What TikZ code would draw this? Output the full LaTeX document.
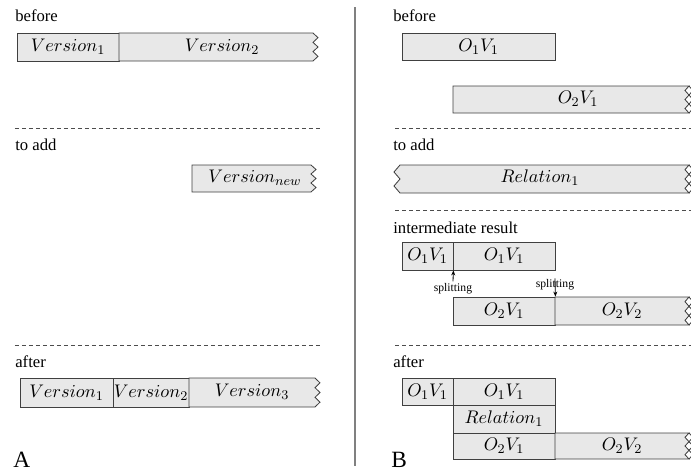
\documentclass[tikz,border=0pt]{standalone}
\usepackage{fontspec}
\setmainfont{Liberation Serif}
\usetikzlibrary{arrows.meta,calc}
% zigzag edge: x of edge, y1, y2, amplitude (3 teeth)
\newcommand\zigedge[4]{-- ({#1+(#4)},{#2+(#3-#2)/6}) -- (#1,{#2+(#3-#2)/3}) -- ({#1+(#4)},{#2+(#3-#2)/2}) -- (#1,{#2+2*(#3-#2)/3}) -- ({#1+(#4)},{#2+5*(#3-#2)/6}) -- (#1,#3)}
\newcommand\cell[6]{\node[box,minimum width={(#4-#2)*0.6pt},minimum height={(#5-#3)*0.6pt}] (#1) at ({(#2+#4)/2},{(#3+#5)/2}) {#6};}
\begin{document}
\begin{tikzpicture}[x=0.6pt,y=-0.6pt,
  box/.style={draw=black!75,fill=gray!18,line width=0.5pt,inner sep=0pt,font=\fontsize{11}{13}\selectfont},
  zbox/.style={draw=black!75,fill=gray!18,line width=0.5pt,line join=miter},
  zline/.style={draw=black!75,line width=0.5pt},
  lbl/.style={inner sep=0pt,font=\fontsize{10}{12}\selectfont,anchor=base west},
  big/.style={inner sep=0pt,font=\fontsize{14}{16}\selectfont,anchor=base west},
  txt/.style={inner sep=0pt,font=\fontsize{11}{13}\selectfont},
  sepline/.style={draw=black!70,dash pattern=on 2.4pt off 1.8pt,line width=0.4pt},
  arr/.style={-{Stealth[length=3pt,width=2.4pt]},line width=0.5pt},
  small/.style={inner sep=0pt,font=\fontsize{7}{8}\selectfont}]
\clip (0,0) rectangle (691,471);
\useasboundingbox (0,0) rectangle (691,471);

% ---------------- Panel A ----------------
\node[lbl] (la1) at (15,21) {before};
\cell{v1}{17}{33}{119}{61}{$Version_1$}
\filldraw[zbox] (119,33) -- (313,33) \zigedge{313}{33}{61}{5} -- (119,61) -- cycle;
\node[txt] (v2) at (222,47) {$Version_2$};

\draw[sepline] (15,128) -- (320,128);
\node[lbl] (la2) at (15,150) {to add};
\filldraw[zbox] (192,165) -- (311,165) \zigedge{311}{165}{192}{5} -- (192,192) -- cycle;
\node[txt] (vn) at (255,178) {$Version_{new}$};

\draw[sepline] (15,345) -- (320,345);
\node[lbl] (la3) at (15,367) {after};
\cell{a1}{20}{378}{113}{407}{$Version_1$}
\cell{a2}{113}{378}{189}{407}{$Version_2$}
\filldraw[zbox] (189,378) -- (315,378) \zigedge{315}{378}{407}{5} -- (189,407) -- cycle;
\node[txt] (a3) at (252,392) {$Version_3$};
\node[big] (A) at (13,467) {A};

% separator
\draw[draw=black!50,line width=0.9pt] (355,7) -- (355,466);

% ---------------- Panel B ----------------
\node[lbl] (lb1) at (393,21) {before};
\cell{b1}{402}{33}{555}{60}{$O_1V_1$}
\filldraw[zbox] (453,86) -- (689,86) \zigedge{689}{86}{113}{-4} -- (453,113) -- cycle;
\draw[zline] (689,86) \zigedge{689}{86}{113}{4};
\node[txt] (b2) at (578,99) {$O_2V_1$};

\draw[sepline] (395,128) -- (691,128);
\node[lbl] (lb2) at (393,150) {to add};
\filldraw[zbox] (400,165) -- (689,165) \zigedge{689}{165}{193}{-4} -- (400,193) -- (394,186) -- (400,179) -- (394,172) -- cycle;
\draw[zline] (689,165) \zigedge{689}{165}{193}{4};
\node[txt] (r1) at (540,178) {$Relation_1$};

\draw[sepline] (395,210) -- (691,210);
\node[lbl] (lb3) at (393,233) {intermediate result};
\cell{i1}{402}{242}{453}{270}{$O_1V_1$}
\cell{i2}{453}{242}{555}{270}{$O_1V_1$}
\cell{i3}{453}{297}{555}{325}{$O_2V_1$}
\filldraw[zbox] (555,297) -- (689,297) \zigedge{689}{297}{325}{-4} -- (555,325) -- cycle;
\draw[zline] (689,297) \zigedge{689}{297}{325}{4};
\node[txt] (i4) at (622,311) {$O_2V_2$};
\node[small] (sp1) at (453,289) {splitting};
\draw[arr] ($(sp1.north)+(0,-2)$) -- (i1.south east);
\node[small] (sp2) at (555,285) {splitting};
\draw[arr] ($(sp2.north)+(0,-1)$) -- (i3.north east);

\draw[sepline] (395,345) -- (691,345);
\node[lbl] (lb4) at (393,367) {after};
\cell{f1}{402}{378}{453}{405}{$O_1V_1$}
\cell{f2}{453}{378}{555}{405}{$O_1V_1$}
\cell{f3}{453}{405}{555}{433}{$Relation_1$}
\cell{f4}{453}{433}{555}{459}{$O_2V_1$}
\filldraw[zbox] (555,433) -- (689,433) \zigedge{689}{433}{459}{-4} -- (555,459) -- cycle;
\draw[zline] (689,433) \zigedge{689}{433}{459}{4};
\node[txt] (f5) at (622,446) {$O_2V_2$};
\node[big] (B) at (391,467) {B};
\end{tikzpicture}
\end{document}
